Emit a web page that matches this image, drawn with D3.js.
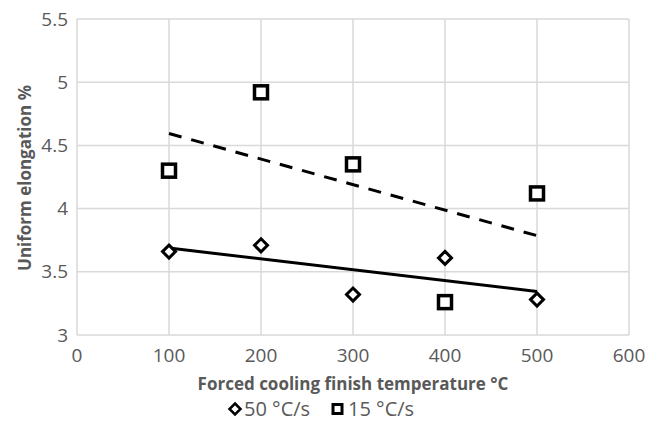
<!DOCTYPE html>
<html>
<head>
<meta charset="utf-8">
<script src="https://cdn.jsdelivr.net/npm/d3@7"></script>
<style>
  body { margin: 0; background: white; }
  text { font-family: "Open Sans", "Liberation Sans", sans-serif; fill: #595959; }
</style>
</head>
<body>
<div id="chart"></div>
<script>
// Uniform elongation vs forced cooling finish temperature

const temps = [100, 200, 300, 400, 500]
const rate50 = [3.66, 3.71, 3.32, 3.61, 3.28]
const rate15 = [4.30, 4.92, 4.35, 3.26, 4.12]
const xTicks = [0, 100, 200, 300, 400, 500, 600]
const yTicks = [3, 3.5, 4, 4.5, 5, 5.5]

const width = 656, height = 422
const margin = { top: 19, left: 77, right: 27, bottom: 87 }

let svg = d3.select('#chart')
  .append('svg')
  .attr('width', width)
  .attr('height', height)
  .style('background-color', 'white')

let x = d3.scaleLinear().domain([0, 600]).range([margin.left, width - margin.right])
let y = d3.scaleLinear().domain([3, 5.5]).range([height - margin.bottom, margin.top])

// gridlines
svg.append('g')
  .selectAll('line')
  .data(yTicks)
  .join('line')
  .attr('x1', x(0)).attr('x2', x(600))
  .attr('y1', d => y(d)).attr('y2', d => y(d))
  .style('stroke', '#d9d9d9').style('stroke-width', 1.5)

svg.append('g')
  .selectAll('line')
  .data(xTicks)
  .join('line')
  .attr('x1', d => x(d)).attr('x2', d => x(d))
  .attr('y1', y(3)).attr('y2', y(5.5))
  .style('stroke', '#d9d9d9').style('stroke-width', 1.5)

// tick labels
svg.append('g')
  .selectAll('text')
  .data(xTicks)
  .join('text')
  .attr('x', d => x(d))
  .attr('y', y(3) + 27)
  .text(d => d)
  .style('font-size', '19px')
  .style('text-anchor', 'middle')

svg.append('g')
  .selectAll('text')
  .data(yTicks)
  .join('text')
  .attr('x', x(0) - 9)
  .attr('y', d => y(d))
  .attr('dy', '0.35em')
  .text(d => d)
  .style('font-size', '19px')
  .style('text-anchor', 'end')

// axis titles
svg.append('text')
  .attr('x', (x(0) + x(600)) / 2)
  .attr('y', 390)
  .text('Forced cooling finish temperature °C')
  .style('font-size', '17px')
  .style('font-weight', 'bold')
  .style('text-anchor', 'middle')

svg.append('text')
  .attr('transform', `translate(31, 178) rotate(-90)`)
  .text('Uniform elongation %')
  .style('font-size', '17px')
  .style('font-weight', 'bold')
  .style('text-anchor', 'middle')

// linear trendlines (least squares, like Excel)
function fit(xs, ys) {
  let mx = d3.mean(xs), my = d3.mean(ys)
  let num = d3.sum(xs, (v, i) => (v - mx) * (ys[i] - my))
  let den = d3.sum(xs, v => (v - mx) * (v - mx))
  let b = num / den
  return v => my + b * (v - mx)
}
let f50 = fit(temps, rate50)
let f15 = fit(temps, rate15)
let ends = [d3.min(temps), d3.max(temps)]

svg.append('line')
  .attr('x1', x(ends[0])).attr('y1', y(f50(ends[0])))
  .attr('x2', x(ends[1])).attr('y2', y(f50(ends[1])))
  .style('stroke', 'black').style('stroke-width', 3)

svg.append('line')
  .attr('x1', x(ends[0])).attr('y1', y(f15(ends[0])))
  .attr('x2', x(ends[1])).attr('y2', y(f15(ends[1])))
  .style('stroke', 'black').style('stroke-width', 3)
  .style('stroke-dasharray', '13,10')

// markers
const sq = 13
svg.append('g')
  .selectAll('rect')
  .data(temps)
  .join('rect')
  .attr('x', d => x(d) - sq / 2)
  .attr('y', (d, i) => y(rate15[i]) - sq / 2)
  .attr('width', sq).attr('height', sq)
  .style('fill', 'white').style('stroke', 'black').style('stroke-width', 3.5)

const dm = 6.5
svg.append('g')
  .selectAll('path')
  .data(temps)
  .join('path')
  .attr('d', (d, i) => {
    let cx = x(d), cy = y(rate50[i])
    return `M${cx},${cy - dm}L${cx + dm},${cy}L${cx},${cy + dm}L${cx - dm},${cy}Z`
  })
  .style('fill', 'white').style('stroke', 'black').style('stroke-width', 3)

// legend
const legend_y = 409
svg.append('path')
  .attr('d', `M235,${legend_y - 5.5}L240.5,${legend_y}L235,${legend_y + 5.5}L229.5,${legend_y}Z`)
  .style('fill', 'white').style('stroke', 'black').style('stroke-width', 2.5)
svg.append('text')
  .attr('x', 244).attr('y', legend_y).attr('dy', '0.36em')
  .text('50 °C/s')
  .style('font-size', '20px')

svg.append('rect')
  .attr('x', 333).attr('y', legend_y - 4.5)
  .attr('width', 9).attr('height', 9)
  .style('fill', 'white').style('stroke', 'black').style('stroke-width', 3)
svg.append('text')
  .attr('x', 348).attr('y', legend_y).attr('dy', '0.36em')
  .text('15 °C/s')
  .style('font-size', '20px')
</script>
</body>
</html>
